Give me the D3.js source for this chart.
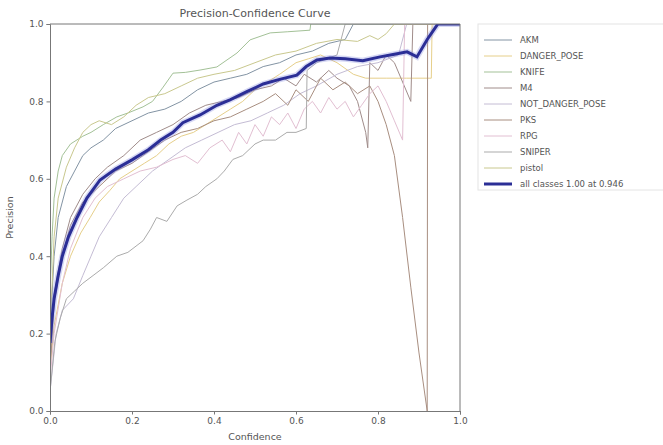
<!DOCTYPE html>
<html>
<head>
<meta charset="utf-8">
<script src="https://cdn.jsdelivr.net/npm/d3@7"></script>
<style>
  body { margin: 0; background: #fff; }
  text { font-family: "DejaVu Sans", sans-serif; fill: #555; }
</style>
</head>
<body>
<div id="plot"></div>
<script>
// class names, legend order
const classes = ["AKM", "DANGER_POSE", "KNIFE", "M4", "NOT_DANGER_POSE", "PKS", "RPG", "SNIPER", "pistol"];
const colors = ["#8394a4", "#e6cf8a", "#a3c197", "#a08c8a", "#c4bcd4", "#a88e80", "#e2bfd2", "#ababab", "#c9c88e"];

// curves: [confidence, precision]
const akm = [[0,0.2],[0.01,0.4],[0.02,0.5],[0.04,0.58],[0.06,0.62],[0.08,0.66],[0.1,0.68],[0.13,0.7],[0.16,0.73],[0.2,0.75],[0.24,0.77],[0.28,0.78],[0.32,0.8],[0.36,0.83],[0.4,0.85],[0.44,0.86],[0.48,0.87],[0.52,0.89],[0.56,0.9],[0.6,0.92],[0.64,0.93],[0.68,0.95],[0.72,0.96],[0.74,1.0],[1,1]];
const dangerPose = [[0,0.1],[0.01,0.22],[0.03,0.33],[0.05,0.4],[0.075,0.46],[0.098,0.5],[0.12,0.54],[0.146,0.57],[0.17,0.6],[0.2,0.62],[0.23,0.64],[0.26,0.66],[0.29,0.69],[0.32,0.71],[0.35,0.72],[0.38,0.74],[0.41,0.76],[0.44,0.78],[0.47,0.8],[0.5,0.83],[0.53,0.85],[0.56,0.87],[0.6,0.9],[0.63,0.91],[0.66,0.92],[0.7,0.9],[0.74,0.87],[0.77,0.86],[0.82,0.86],[0.87,0.86],[0.93,0.86],[0.932,1.0],[1,1]];
const knife = [[0,0.3],[0.005,0.45],[0.01,0.55],[0.02,0.62],[0.03,0.66],[0.05,0.69],[0.08,0.71],[0.1,0.72],[0.13,0.74],[0.163,0.76],[0.19,0.77],[0.227,0.786],[0.25,0.8],[0.276,0.837],[0.3,0.873],[0.33,0.875],[0.366,0.881],[0.407,0.889],[0.456,0.925],[0.488,0.959],[0.537,0.977],[0.58,0.98],[0.634,0.984],[0.636,1.0],[1,1]];
const m4 = [[0,0.12],[0.01,0.3],[0.03,0.42],[0.05,0.5],[0.08,0.56],[0.11,0.6],[0.14,0.63],[0.18,0.66],[0.22,0.7],[0.26,0.72],[0.3,0.74],[0.34,0.77],[0.38,0.79],[0.42,0.8],[0.46,0.81],[0.5,0.83],[0.54,0.84],[0.57,0.86],[0.6,0.84],[0.62,0.87],[0.65,0.85],[0.68,0.88],[0.7,0.86],[0.73,0.84],[0.75,0.8],[0.77,0.72],[0.775,0.68],[0.78,0.9],[0.8,0.88],[0.82,0.92],[0.84,0.9],[0.86,0.85],[0.88,0.8],[0.885,1.0],[1,1]];
const notDangerPose = [[0,0.05],[0.015,0.2],[0.03,0.26],[0.057,0.29],[0.08,0.35],[0.1,0.4],[0.12,0.45],[0.15,0.5],[0.18,0.55],[0.21,0.58],[0.25,0.62],[0.29,0.65],[0.33,0.68],[0.37,0.7],[0.41,0.72],[0.45,0.74],[0.49,0.75],[0.53,0.77],[0.57,0.79],[0.61,0.82],[0.65,0.84],[0.7,0.87],[0.75,0.89],[0.8,0.9],[0.85,0.92],[0.87,1.0],[1,1]];
const pks = [[0,0.1],[0.01,0.28],[0.03,0.4],[0.05,0.48],[0.08,0.54],[0.12,0.58],[0.16,0.62],[0.2,0.64],[0.24,0.67],[0.28,0.7],[0.32,0.72],[0.36,0.73],[0.4,0.75],[0.44,0.76],[0.48,0.78],[0.52,0.8],[0.55,0.82],[0.58,0.79],[0.6,0.83],[0.63,0.8],[0.66,0.86],[0.69,0.83],[0.72,0.85],[0.75,0.82],[0.78,0.84],[0.8,0.8],[0.82,0.74],[0.84,0.66],[0.86,0.5],[0.88,0.32],[0.9,0.15],[0.92,0.0],[0.921,1.0],[1,1]];
const rpg = [[0,0.08],[0.01,0.2],[0.03,0.33],[0.05,0.42],[0.08,0.5],[0.11,0.55],[0.14,0.58],[0.18,0.6],[0.22,0.62],[0.26,0.63],[0.3,0.65],[0.33,0.66],[0.36,0.64],[0.39,0.68],[0.42,0.7],[0.44,0.67],[0.46,0.72],[0.48,0.69],[0.5,0.74],[0.52,0.71],[0.54,0.76],[0.56,0.74],[0.58,0.77],[0.6,0.73],[0.62,0.78],[0.64,0.8],[0.66,0.77],[0.68,0.81],[0.7,0.78],[0.72,0.8],[0.74,0.76],[0.76,0.79],[0.78,0.82],[0.8,0.84],[0.82,0.8],[0.84,0.75],[0.86,0.7],[0.865,1.0],[1,1]];
const sniper = [[0,0.05],[0.012,0.18],[0.025,0.24],[0.04,0.29],[0.06,0.31],[0.08,0.33],[0.105,0.35],[0.13,0.37],[0.163,0.4],[0.19,0.41],[0.227,0.44],[0.245,0.47],[0.26,0.5],[0.285,0.49],[0.31,0.53],[0.334,0.545],[0.36,0.56],[0.38,0.58],[0.407,0.6],[0.425,0.62],[0.446,0.65],[0.47,0.66],[0.5,0.69],[0.52,0.7],[0.55,0.7],[0.578,0.72],[0.6,0.72],[0.625,0.73],[0.627,0.88],[0.65,0.9],[0.7,0.92],[0.72,1.0],[1,1]];
const pistol = [[0,0.2],[0.01,0.45],[0.02,0.55],[0.04,0.63],[0.06,0.68],[0.08,0.72],[0.1,0.74],[0.12,0.75],[0.15,0.74],[0.18,0.76],[0.21,0.79],[0.24,0.81],[0.28,0.82],[0.32,0.84],[0.36,0.86],[0.4,0.87],[0.45,0.88],[0.5,0.9],[0.55,0.92],[0.6,0.93],[0.65,0.95],[0.7,0.96],[0.75,0.955],[0.78,0.97],[0.8,0.96],[0.82,0.975],[0.84,1.0],[1,1]];
const allClasses = [[0,0.176],[0.005,0.24],[0.01,0.29],[0.02,0.35],[0.03,0.40],[0.045,0.45],[0.066,0.5],[0.09,0.55],[0.122,0.597],[0.16,0.625],[0.2,0.649],[0.24,0.675],[0.27,0.70],[0.3,0.72],[0.324,0.745],[0.366,0.765],[0.407,0.79],[0.439,0.804],[0.48,0.825],[0.52,0.845],[0.56,0.857],[0.602,0.868],[0.625,0.89],[0.651,0.907],[0.683,0.912],[0.72,0.91],[0.763,0.905],[0.805,0.915],[0.84,0.922],[0.871,0.928],[0.895,0.915],[0.92,0.96],[0.946,1.0],[1,1]];
const allLabel = "all classes 1.00 at 0.946";

const series = [akm, dangerPose, knife, m4, notDangerPose, pks, rpg, sniper, pistol];
const ticks = [0, 0.2, 0.4, 0.6, 0.8, 1.0];

const width = 663, height = 445;
const mLeft = 50, mRight = 460, mTop = 24, mBottom = 411;

const svg = d3.select("#plot").append("svg")
    .attr("width", width)
    .attr("height", height);

const x = d3.scaleLinear().domain([0, 1]).range([mLeft, mRight]);
const y = d3.scaleLinear().domain([0, 1]).range([mBottom, mTop]);

svg.append("clipPath").attr("id", "clip")
  .append("rect")
    .attr("x", mLeft).attr("y", mTop)
    .attr("width", mRight - mLeft).attr("height", mBottom - mTop);

const line = d3.line().x(d => x(d[0])).y(d => y(d[1]));

const plot = svg.append("g").attr("clip-path", "url(#clip)");

// per class curves
plot.selectAll("path.cls").data(series).enter().append("path")
    .attr("class", "cls")
    .attr("d", line)
    .attr("fill", "none")
    .attr("stroke", (d, i) => colors[i])
    .attr("stroke-width", 1);

// all classes, with a soft halo like the blurry original
plot.append("path")
    .attr("d", line(allClasses))
    .attr("fill", "none")
    .attr("stroke", "#8a8ee0")
    .attr("stroke-opacity", 0.35)
    .attr("stroke-width", 6);
plot.append("path")
    .attr("d", line(allClasses))
    .attr("fill", "none")
    .attr("stroke", "#2b2e96")
    .attr("stroke-width", 3);

// axes
const xAxis = svg.append("g")
    .attr("transform", `translate(0,${mBottom})`)
    .call(d3.axisBottom(x).tickValues(ticks).tickFormat(d3.format(".1f")).tickSize(3.5).tickPadding(3));
const yAxis = svg.append("g")
    .attr("transform", `translate(${mLeft},0)`)
    .call(d3.axisLeft(y).tickValues(ticks).tickFormat(d3.format(".1f")).tickSize(3.5).tickPadding(3));
[xAxis, yAxis].forEach(g => {
    g.selectAll("text").style("font-size", "9px").attr("fill", "#555");
    g.selectAll("line").attr("stroke", "#777");
    g.select(".domain").attr("stroke", "#777");
});

// top and right spines
svg.append("line").attr("x1", mLeft).attr("x2", mRight).attr("y1", mTop).attr("y2", mTop).attr("stroke", "#777");
svg.append("line").attr("x1", mRight).attr("x2", mRight).attr("y1", mTop).attr("y2", mBottom).attr("stroke", "#777");

// titles
svg.append("text")
    .attr("x", (mLeft + mRight) / 2)
    .attr("y", mTop - 7)
    .attr("text-anchor", "middle")
    .style("font-size", "11px")
    .text("Precision-Confidence Curve");

svg.append("text")
    .attr("x", (mLeft + mRight) / 2)
    .attr("y", 440)
    .attr("text-anchor", "middle")
    .style("font-size", "9.5px")
    .text("Confidence");

svg.append("text")
    .attr("transform", `translate(13,${(mTop + mBottom) / 2}) rotate(-90)`)
    .attr("text-anchor", "middle")
    .style("font-size", "9.5px")
    .text("Precision");

// legend
const legendItems = classes.map((c, i) => ({name: c, color: colors[i], w: 1}))
    .concat([{name: allLabel, color: "#2b2e96", w: 3}]);
const lx = 478, ly = 32, rowH = 16;

svg.append("rect")
    .attr("x", lx)
    .attr("y", ly - 8)
    .attr("width", 190)
    .attr("height", legendItems.length * rowH + 6)
    .attr("fill", "#fff")
    .attr("stroke", "#e4e4e4");

const items = svg.selectAll("g.item").data(legendItems).enter().append("g")
    .attr("class", "item")
    .attr("transform", (d, i) => `translate(${lx},${ly + 8 + i * rowH})`);
items.append("line")
    .attr("x1", 6).attr("x2", 34)
    .attr("stroke", d => d.color)
    .attr("stroke-width", d => d.w);
items.append("text")
    .attr("x", 42)
    .attr("dy", "0.35em")
    .style("font-size", "8.5px")
    .text(d => d.name);
</script>
</body>
</html>
